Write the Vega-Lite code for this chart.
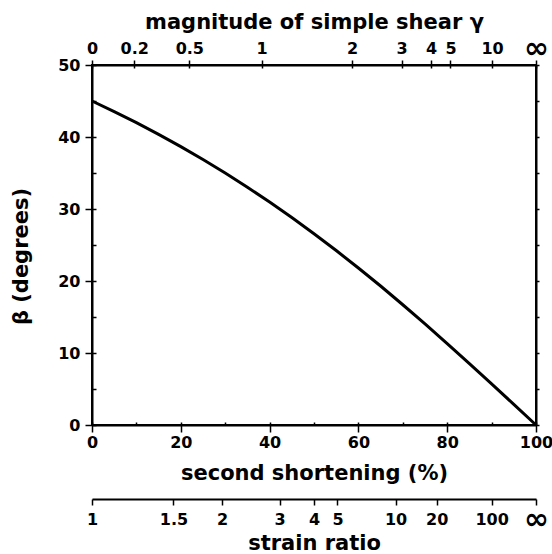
{
  "$schema": "https://vega.github.io/schema/vega-lite/v6.json",
  "width": 444,
  "height": 360,
  "autosize": {"type": "none"},
  "padding": {"left": 92, "top": 65, "right": 16, "bottom": 129},
  "background": "white",
  "config": {
    "view": {"stroke": "black", "strokeWidth": 2},
    "axis": {
      "grid": false,
      "domainColor": "black",
      "domainWidth": 2,
      "tickColor": "black",
      "tickWidth": 1.5,
      "labelColor": "black",
      "labelFont": "DejaVu Sans",
      "labelFontWeight": "bold",
      "labelFontSize": 16,
      "labelFlush": false,
      "labelOverlap": false,
      "labelBound": false,
      "titleColor": "black",
      "titleFont": "DejaVu Sans",
      "titleFontWeight": "bold",
      "titleFontSize": 21
    }
  },
  "data": {
    "values": [
      {"s": 0, "beta": 45.0},
      {"s": 5, "beta": 43.53},
      {"s": 10, "beta": 41.99},
      {"s": 15, "beta": 40.36},
      {"s": 20, "beta": 38.66},
      {"s": 25, "beta": 36.87},
      {"s": 30, "beta": 34.99},
      {"s": 35, "beta": 33.02},
      {"s": 40, "beta": 30.96},
      {"s": 45, "beta": 28.81},
      {"s": 50, "beta": 26.57},
      {"s": 55, "beta": 24.23},
      {"s": 60, "beta": 21.8},
      {"s": 65, "beta": 19.3},
      {"s": 70, "beta": 16.7},
      {"s": 75, "beta": 14.04},
      {"s": 80, "beta": 11.31},
      {"s": 85, "beta": 8.53},
      {"s": 90, "beta": 5.71},
      {"s": 95, "beta": 2.86},
      {"s": 100, "beta": 0}
    ]
  },
  "resolve": {"axis": {"x": "independent", "y": "independent"}},
  "layer": [
    {
      "mark": {"type": "line", "color": "black", "strokeWidth": 3},
      "encoding": {
        "x": {
          "field": "s", "type": "quantitative",
          "scale": {"domain": [0, 100], "nice": false, "zero": false},
          "axis": {
            "orient": "bottom",
            "values": [0, 20, 40, 60, 80, 100],
            "tickSize": 7,
            "labelPadding": 2,
            "title": "second shortening (%)",
            "titleBaseline": "middle",
            "titleY": 48
          }
        },
        "y": {
          "field": "beta", "type": "quantitative",
          "scale": {"domain": [0, 50], "nice": false, "zero": false},
          "axis": {
            "orient": "left",
            "values": [0, 10, 20, 30, 40, 50],
            "tickSize": 7,
            "labelPadding": 5,
            "title": "β (degrees)",
            "titleBaseline": "middle",
            "titleX": -71,
            "titleY": 191
          }
        }
      }
    },
    {
      "mark": {"type": "line", "opacity": 0},
      "encoding": {
        "x": {
          "field": "s", "type": "quantitative",
          "axis": {
            "orient": "bottom",
            "values": [0, 10, 20, 30, 40, 50, 60, 70, 80, 90, 100],
            "tickSize": -3,
            "labels": false,
            "domain": false,
            "title": null
          }
        },
        "y": {
          "field": "beta", "type": "quantitative",
          "axis": {
            "orient": "left",
            "values": [0, 5, 10, 15, 20, 25, 30, 35, 40, 45, 50],
            "tickSize": -4,
            "labels": false,
            "domain": false,
            "title": null
          }
        }
      }
    },
    {
      "mark": {"type": "line", "opacity": 0},
      "encoding": {
        "x": {
          "field": "s", "type": "quantitative",
          "axis": {
            "orient": "top",
            "values": [0, 9.5, 21.92, 38.2, 58.58, 69.72, 76.39, 80.74, 90.1, 100],
            "tickSize": 5,
            "labelPadding": 12,
            "labelBaseline": "middle",
            "labelExpr": "datum.value < 1 ? '0' : datum.value < 15 ? '0.2' : datum.value < 30 ? '0.5' : datum.value < 45 ? '1' : datum.value < 65 ? '2' : datum.value < 73 ? '3' : datum.value < 78 ? '4' : datum.value < 85 ? '5' : datum.value < 95 ? '10' : '∞'",
            "labelFontSize": {"condition": {"test": "datum.value > 95", "value": 30}, "value": 16},
            "title": "magnitude of simple shear  γ",
            "titleBaseline": "middle",
            "titleY": -43
          }
        },
        "y": {
          "field": "beta", "type": "quantitative",
          "axis": {
            "orient": "right",
            "values": [0, 5, 10, 15, 20, 25, 30, 35, 40, 45, 50],
            "tickSize": 3,
            "labels": false,
            "title": null
          }
        }
      }
    },
    {
      "mark": {"type": "line", "opacity": 0},
      "encoding": {
        "x": {
          "field": "s", "type": "quantitative",
          "axis": {
            "orient": "top",
            "values": [0, 9.5, 21.92, 38.2, 58.58, 69.72, 76.39, 80.74, 90.1, 100],
            "tickSize": -3,
            "labels": false,
            "domain": false,
            "title": null
          }
        },
        "y": {"field": "beta", "type": "quantitative", "axis": null}
      }
    },
    {
      "mark": {"type": "line", "opacity": 0},
      "encoding": {
        "x": {
          "field": "s", "type": "quantitative",
          "axis": {
            "orient": "bottom",
            "offset": 74,
            "values": [0, 18.35, 29.29, 42.26, 50, 55.28, 68.38, 77.64, 90, 100],
            "tickSize": 6,
            "labelPadding": 14,
            "labelBaseline": "middle",
            "labelExpr": "datum.value < 1 ? '1' : datum.value < 24 ? '1.5' : datum.value < 35 ? '2' : datum.value < 46 ? '3' : datum.value < 52 ? '4' : datum.value < 60 ? '5' : datum.value < 72 ? '10' : datum.value < 84 ? '20' : datum.value < 95 ? '100' : '∞'",
            "labelFontSize": {"condition": {"test": "datum.value > 95", "value": 30}, "value": 16},
            "title": "strain ratio",
            "titleBaseline": "middle",
            "titleY": 44
          }
        },
        "y": {"field": "beta", "type": "quantitative", "axis": null}
      }
    }
  ]
}
